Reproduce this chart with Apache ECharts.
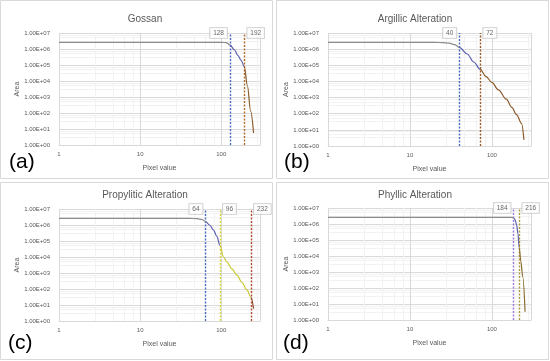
<!DOCTYPE html>
<html><head><meta charset="utf-8">
<script src="https://cdn.jsdelivr.net/npm/echarts@6/dist/echarts.min.js"></script>
<style>html,body{margin:0;padding:0;background:#fff}#c{width:550px;height:361px}</style>
</head><body><div id="c"></div>
<script>
// Panel titles and tags
const titles = ['Gossan', 'Argillic Alteration', 'Propylitic Alteration', 'Phyllic Alteration'];
const tags = ['(a)', '(b)', '(c)', '(d)'];

// Panel (a) Gossan
const gossanX = [1, 10, 50, 100, 115, 128, 145, 160, 175, 192, 210, 230, 250];
const gossanY = [2.6e6, 2.6e6, 2.6e6, 2.6e6, 2.5e6, 1.8e6, 9e5, 4e5, 2e5, 8e4, 5e3, 130, 5.6];
const gossanThr = [128, 192];

// Panel (b) Argillic
const argX = [1, 10, 20, 25, 30, 35, 40, 50, 60, 72, 85, 100, 120, 150, 175, 200, 230, 246];
const argY = [2.6e6, 2.6e6, 2.6e6, 2.55e6, 2.35e6, 1.9e6, 1.3e6, 5e5, 1.6e5, 5.6e4, 2e4, 8.7e3, 3e3, 800, 250, 87, 25, 2.4];
const argThr = [40, 72];

// Panel (c) Propylitic
const propX = [1, 10, 40, 50, 58, 64, 72, 80, 88, 96, 107, 117, 135, 156, 180, 207, 232, 250];
const propY = [2.6e6, 2.6e6, 2.6e6, 2.5e6, 2.2e6, 1.65e6, 1e6, 5e5, 2e5, 5.6e4, 1e4, 5e3, 1.8e3, 740, 250, 87, 30, 6];
const propThr = [64, 96, 232];

// Panel (d) Phyllic
const phylX = [1, 10, 100, 175, 184, 192, 200, 208, 216, 225, 238, 254];
const phylY = [2.6e6, 2.6e6, 2.6e6, 2.6e6, 2.4e6, 1.8e6, 9e5, 2.5e5, 3e4, 5e3, 500, 3.3];
const phylThr = [184, 216];

const xs = [gossanX, argX, propX, phylX];
const ys = [gossanY, argY, propY, phylY];
const thrs = [gossanThr, argThr, propThr, phylThr];
const segColors = [
  ['#8c8c8c', '#5b5fae', '#8b5a2b'],
  ['#8c8c8c', '#5b5fae', '#8b5a2b'],
  ['#8c8c8c', '#5b5fae', '#c9c938', '#8b4a2b'],
  ['#8c8c8c', '#5b5fae', '#8a6a2b']
];
const thrColors = [
  ['#4a6bbf', '#b06a2a'],
  ['#4a6bbf', '#9a5a2a'],
  ['#4a6bbf', '#d8d640', '#b04a30'],
  ['#9a7ae0', '#b09a40']
];
const labelSide = [
  ['left', 'right'],
  ['left', 'right'],
  ['left', 'right', 'right'],
  ['left', 'right']
];

const FONT = 'Liberation Sans';
const gridsPos = [
  {left: 59, top: 33, width: 201, height: 112},
  {left: 328, top: 33, width: 203, height: 113},
  {left: 59, top: 209, width: 201, height: 112},
  {left: 328, top: 208, width: 203, height: 112}
];
const titlePos = [[140, 9], [410, 9], [140, 185], [410, 185]];
const tagPos = [[4, 147], [279, 147], [3, 328], [278, 328]];

function yFmt(v) {
  const e = Math.round(Math.log10(v));
  return '1.00E+' + (e < 10 ? '0' : '') + e;
}

const option = {
  backgroundColor: '#fff',
  animation: false,
  title: [],
  grid: gridsPos,
  xAxis: [], yAxis: [], series: [], visualMap: [],
  graphic: [
    {type: 'rect', shape: {x: 0.5, y: 0.5, width: 272, height: 178}, style: {fill: 'none', stroke: '#d9d9d9', lineWidth: 1}, z: -1},
    {type: 'rect', shape: {x: 276.5, y: 0.5, width: 272, height: 178}, style: {fill: 'none', stroke: '#d9d9d9', lineWidth: 1}, z: -1},
    {type: 'rect', shape: {x: 0.5, y: 182.5, width: 272, height: 177}, style: {fill: 'none', stroke: '#d9d9d9', lineWidth: 1}, z: -1},
    {type: 'rect', shape: {x: 276.5, y: 182.5, width: 272, height: 177}, style: {fill: 'none', stroke: '#d9d9d9', lineWidth: 1}, z: -1}
  ]
};

for (let i = 0; i < 4; i++) {
  option.title.push({
    text: titles[i], left: titlePos[i][0], top: titlePos[i][1], textAlign: 'center',
    textStyle: {fontFamily: FONT, fontSize: 10, fontWeight: 'normal', color: '#595959'}
  });
  option.title.push({
    text: tags[i], left: tagPos[i][0], top: tagPos[i][1],
    textStyle: {fontFamily: FONT, fontSize: 21, fontWeight: 'normal', color: '#000'}
  });
  option.xAxis.push({
    type: 'log', logBase: 10, min: 1, max: 300, gridIndex: i,
    name: 'Pixel value', nameLocation: 'middle', nameGap: 20,
    nameTextStyle: {fontFamily: FONT, fontSize: 7, color: '#595959'},
    axisLine: {show: true, lineStyle: {color: '#d9d9d9'}},
    axisTick: {show: false},
    axisLabel: {fontFamily: FONT, fontSize: 6, color: '#595959', margin: 6, showMaxLabel: false},
    splitLine: {show: true, lineStyle: {color: '#d9d9d9', width: 1}},
    minorTick: {show: false, splitNumber: 5},
    minorSplitLine: {show: true, lineStyle: {color: '#f2f2f2', width: 1}}
  });
  option.yAxis.push({
    type: 'log', logBase: 10, min: 1, max: 1e7, interval: 1, gridIndex: i,
    name: 'Area', nameLocation: 'middle', nameGap: 36, nameRotate: 90,
    nameTextStyle: {fontFamily: FONT, fontSize: 7, color: '#595959'},
    axisLine: {show: false},
    axisTick: {show: false},
    axisLabel: {fontFamily: FONT, fontSize: 6, color: '#595959', margin: 9, formatter: yFmt},
    splitLine: {show: true, lineStyle: {color: '#d9d9d9', width: 1}},
    minorTick: {show: false, splitNumber: 4},
    minorSplitLine: {show: true, lineStyle: {color: '#f2f2f2', width: 1}}
  });
  const data = xs[i].map((x, k) => [x, ys[i][k]]);
  const lineIdx = option.series.length;
  option.series.push({
    type: 'line', xAxisIndex: i, yAxisIndex: i, data: data,
    smooth: 0.35, smoothMonotone: 'x', showSymbol: false, symbol: 'none',
    lineStyle: {width: 1.2}, z: 5,
    markLine: {
      silent: true, symbol: 'none', animation: false,
      label: {show: false},
      data: thrs[i].map((t, k) => ({
        xAxis: t,
        lineStyle: {color: thrColors[i][k], type: [2, 1.5], width: 1.4}
      }))
    }
  });
  const pieces = [];
  const t = thrs[i];
  pieces.push({lt: t[0], color: segColors[i][0]});
  for (let k = 0; k < t.length; k++) {
    const p = {gte: t[k], color: segColors[i][k + 1]};
    if (k + 1 < t.length) p.lt = t[k + 1];
    pieces.push(p);
  }
  option.visualMap.push({
    type: 'piecewise', show: false, dimension: 0, seriesIndex: lineIdx, pieces: pieces
  });
  option.series.push({
    type: 'scatter', xAxisIndex: i, yAxisIndex: i, symbolSize: 0, z: 10,
    data: thrs[i].map((v, k) => ({
      value: [v, 1e7],
      label: {position: labelSide[i][k]}
    })),
    label: {
      show: true, distance: 3,
      formatter: p => String(p.value[0]),
      fontFamily: FONT, fontSize: 6.5, color: '#404040',
      backgroundColor: '#fff', borderColor: '#bfbfbf', borderWidth: 0.8,
      padding: [2, 3, 1, 3]
    }
  });
}

const chart = echarts.init(document.getElementById('c'), null, {renderer: 'canvas'});
chart.setOption(option);
</script>
</body></html>
